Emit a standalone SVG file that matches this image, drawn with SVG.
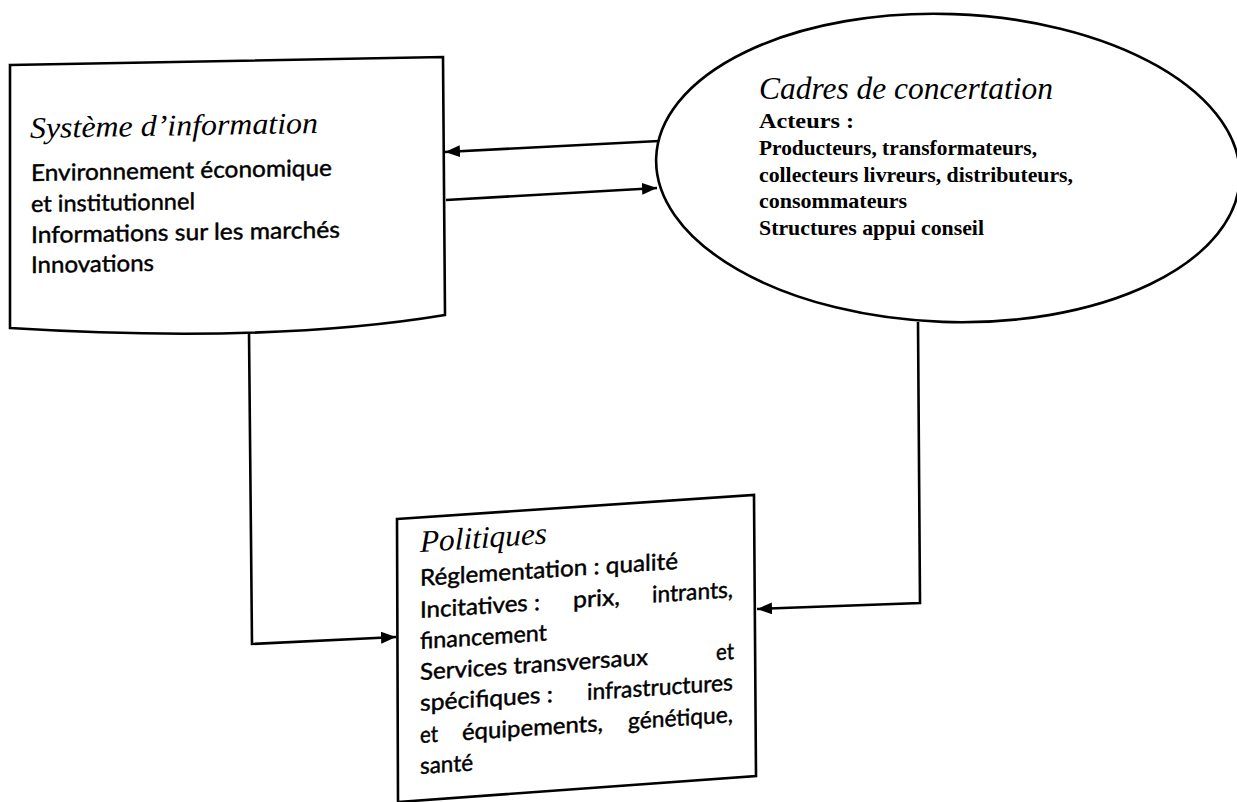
<svg xmlns="http://www.w3.org/2000/svg" width="1237" height="802" viewBox="0 0 1237 802">
  <style>
    .shape { fill: #ffffff; stroke: #000000; stroke-width: 2.6; }
    .conn { fill: none; stroke: #000000; stroke-width: 2.6; }
    .title { font-family: "Liberation Serif", "Times New Roman", serif; font-style: italic; fill: #000; }
    .body { font-family: "Lato", "Open Sans", sans-serif; fill: #000; stroke: #000; stroke-width: 0.45; }
    .ell { font-family: "Liberation Serif", "Times New Roman", serif; font-weight: bold; fill: #000; }
  </style>
  <defs>
    <marker id="arrow" markerUnits="userSpaceOnUse" markerWidth="15" markerHeight="12" refX="15" refY="6" orient="auto">
      <path d="M0,0 L15,6 L0,12 z" fill="#000"/>
    </marker>
  </defs>
  <rect x="0" y="0" width="1237" height="802" fill="#ffffff"/>

  <g id="systeme-information">
    <path class="shape" d="M10,65 L443,57 L445,315 Q270,344 10,328 Z"/>
    <g transform="translate(30,0) skewY(-1) translate(-30,0)">
      <text class="title" x="30" y="138" font-size="30" textLength="288" lengthAdjust="spacingAndGlyphs">Système d’information</text>
      <text class="body" font-size="23">
        <tspan x="31" y="181" textLength="301" lengthAdjust="spacingAndGlyphs">Environnement économique</tspan>
        <tspan x="31" y="212" textLength="164" lengthAdjust="spacingAndGlyphs">et institutionnel</tspan>
        <tspan x="31" y="243" textLength="309" lengthAdjust="spacingAndGlyphs">Informations sur les marchés</tspan>
        <tspan x="31" y="273" textLength="123" lengthAdjust="spacingAndGlyphs">Innovations</tspan>
      </text>
    </g>
  </g>

  <g id="cadres-concertation">
    <ellipse class="shape" cx="948" cy="168" rx="292" ry="154" transform="rotate(2 948 168)"/>
    <text class="title" x="759" y="99" font-size="31" textLength="294" lengthAdjust="spacingAndGlyphs">Cadres de concertation</text>
    <text class="ell" font-size="21">
      <tspan x="759" y="128" textLength="95" lengthAdjust="spacingAndGlyphs">Acteurs :</tspan>
      <tspan x="759" y="155" textLength="278" lengthAdjust="spacingAndGlyphs">Producteurs, transformateurs,</tspan>
      <tspan x="759" y="182" textLength="314" lengthAdjust="spacingAndGlyphs">collecteurs livreurs, distributeurs,</tspan>
      <tspan x="759" y="208" textLength="148" lengthAdjust="spacingAndGlyphs">consommateurs</tspan>
      <tspan x="759" y="235" textLength="225" lengthAdjust="spacingAndGlyphs">Structures appui conseil</tspan>
    </text>
  </g>

  <g id="politiques">
    <path class="shape" d="M397,519 L754,495 L756,776 L398,802 Z"/>
    <g transform="translate(420,0) skewY(-3.8) translate(-420,0)">
      <text class="title" x="420" y="552" font-size="31" textLength="127" lengthAdjust="spacingAndGlyphs">Politiques</text>
      <text class="body" font-size="23">
        <tspan x="420" y="586" textLength="258" lengthAdjust="spacingAndGlyphs">Réglementation : qualité</tspan>
        <tspan x="420" y="618" textLength="120" lengthAdjust="spacingAndGlyphs">Incitatives :</tspan>
        <tspan x="573" y="618" textLength="47" lengthAdjust="spacingAndGlyphs">prix,</tspan>
        <tspan x="652" y="618" textLength="81" lengthAdjust="spacingAndGlyphs">intrants,</tspan>
        <tspan x="420" y="649" textLength="127" lengthAdjust="spacingAndGlyphs">financement</tspan>
        <tspan x="420" y="680" textLength="228" lengthAdjust="spacingAndGlyphs">Services transversaux</tspan>
        <tspan x="716" y="680" textLength="18" lengthAdjust="spacingAndGlyphs">et</tspan>
        <tspan x="420" y="711" textLength="133" lengthAdjust="spacingAndGlyphs">spécifiques :</tspan>
        <tspan x="587" y="711" textLength="146" lengthAdjust="spacingAndGlyphs">infrastructures</tspan>
        <tspan x="420" y="743" textLength="18" lengthAdjust="spacingAndGlyphs">et</tspan>
        <tspan x="462" y="743" textLength="141" lengthAdjust="spacingAndGlyphs">équipements,</tspan>
        <tspan x="628" y="743" textLength="105" lengthAdjust="spacingAndGlyphs">génétique,</tspan>
        <tspan x="420" y="774" textLength="53" lengthAdjust="spacingAndGlyphs">santé</tspan>
      </text>
    </g>
  </g>

  <g id="connectors">
    <line class="conn" x1="659" y1="141" x2="445" y2="152" marker-end="url(#arrow)"/>
    <line class="conn" x1="446" y1="200" x2="657" y2="188" marker-end="url(#arrow)"/>
    <polyline class="conn" points="249,332 252,644 396,637" marker-end="url(#arrow)"/>
    <polyline class="conn" points="918,322 920,603 757,609" marker-end="url(#arrow)"/>
  </g>
</svg>
